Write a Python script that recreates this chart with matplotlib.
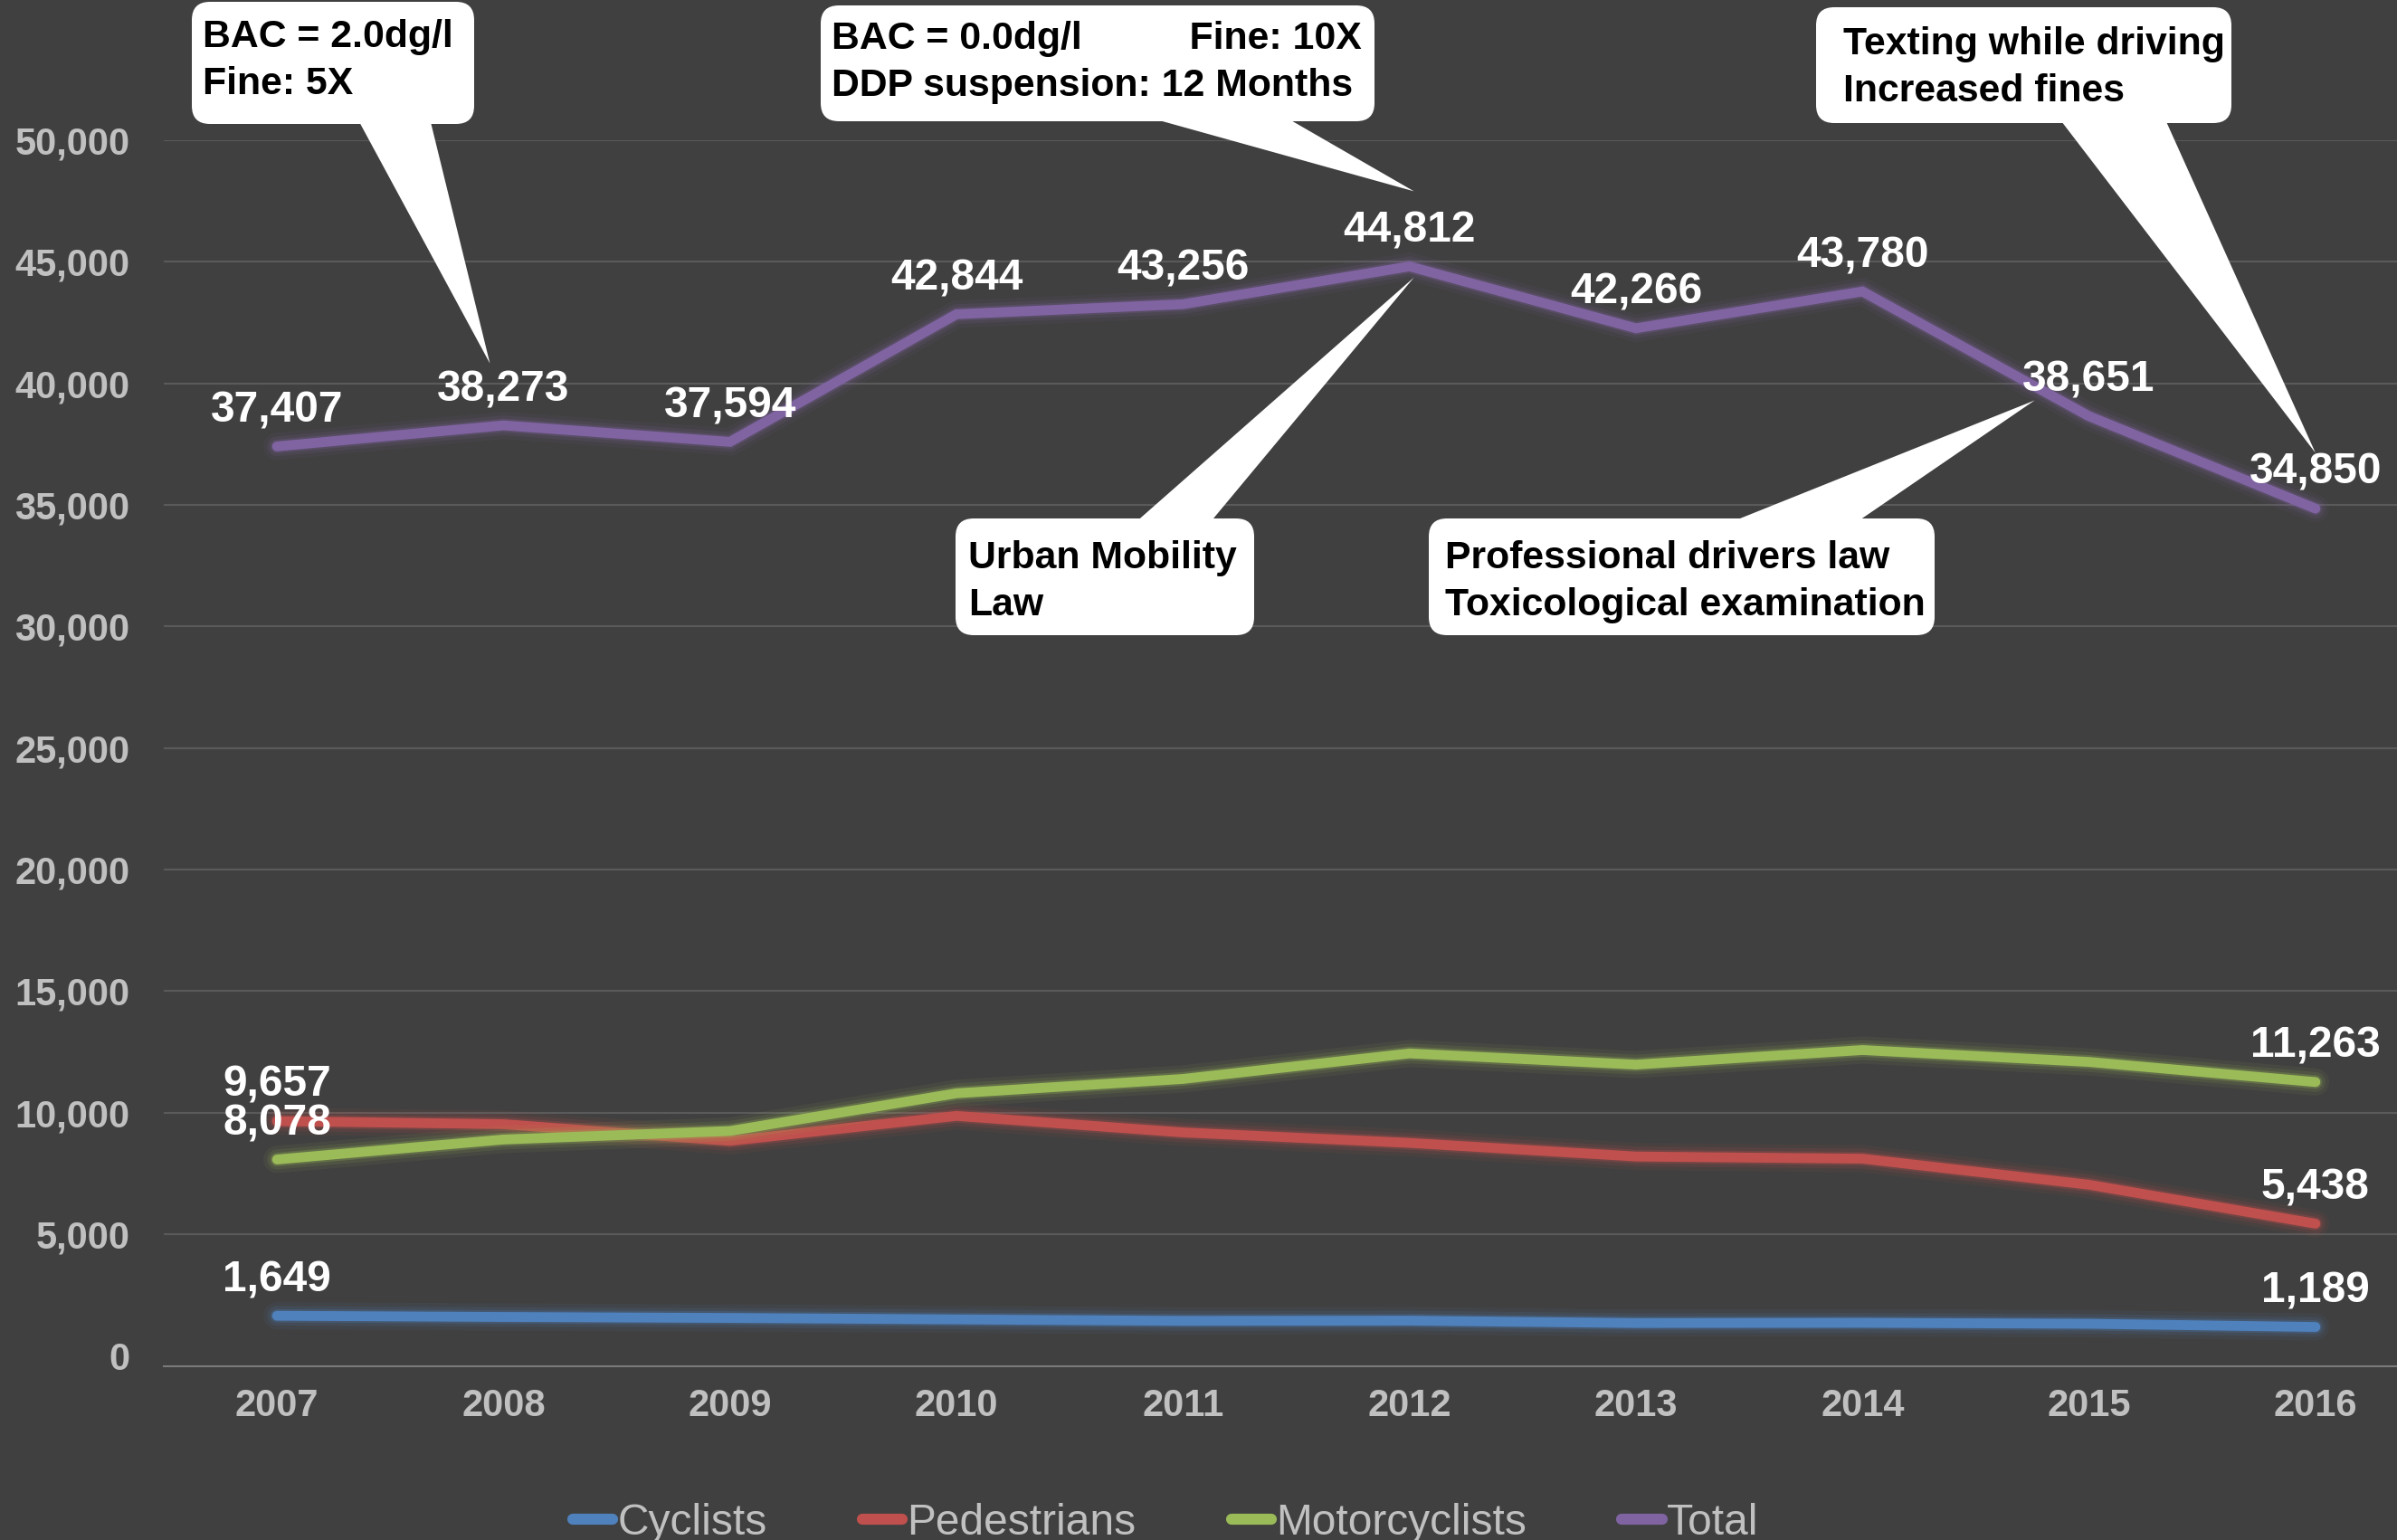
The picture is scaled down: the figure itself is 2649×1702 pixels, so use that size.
import matplotlib
matplotlib.use("Agg")
import matplotlib.pyplot as plt
import matplotlib.patheffects as pe
from matplotlib.lines import Line2D
from matplotlib.patches import FancyBboxPatch, Polygon
from matplotlib.transforms import IdentityTransform
from matplotlib.ticker import FuncFormatter

# Road traffic deaths by victim type
years = [2007, 2008, 2009, 2010, 2011, 2012, 2013, 2014, 2015, 2016]
cyclists = [1649, 1600, 1560, 1500, 1440, 1450, 1350, 1360, 1320, 1189]
pedestrians = [9657, 9530, 8840, 9870, 9190, 8760, 8200, 8110, 7040, 5438]
motorcyclists = [8078, 8900, 9250, 10800, 11390, 12440, 11980, 12580, 12090, 11263]
total = [37407, 38273, 37594, 42844, 43256, 44812, 42266, 43780, 38651, 34850]

series_names = ["Cyclists", "Pedestrians", "Motorcyclists", "Total"]
series_colors = ["#4f81bd", "#c0504d", "#9bbb59", "#8064a2"]

W, H = 2649, 1702
BG = "#404040"
LW = 7.8

plt.rcParams['font.family'] = ['Liberation Sans', 'DejaVu Sans']
plt.rcParams['font.weight'] = 'bold'

fig = plt.figure(figsize=(W / 100, H / 100), dpi=100, facecolor=BG)
ax = fig.add_axes([181 / W, 1 - 1510 / H, 1 - 181 / W, (1510 - 155) / H])
ax.set_facecolor(BG)

all_series = [cyclists, pedestrians, motorcyclists, total]
for name, vals, col in zip(series_names, all_series, series_colors):
    ax.plot(years, vals, color=col, lw=LW, solid_capstyle='round',
            solid_joinstyle='miter', label=name,
            path_effects=[pe.Stroke(linewidth=LW + 14, foreground=col, alpha=0.07),
                          pe.Stroke(linewidth=LW + 8, foreground=col, alpha=0.12),
                          pe.Stroke(linewidth=LW + 3, foreground=col, alpha=0.25),
                          pe.Normal()])

# data labels: every point of Total, first and last of the others
def label(x, v):
    ax.annotate(f"{v:,}", (x, v), xytext=(0, 28.5), textcoords='offset points',
                ha='center', va='center', color='white', fontsize=34.5,
                fontweight='bold', zorder=5)

for vals in all_series[:3]:
    label(years[0], vals[0])
    label(years[-1], vals[-1])
for x, v in zip(years, total):
    label(x, v)

ax.set_xlim(2006.5, 2016.36)
ax.set_ylim(-428, 50000)
ax.set_yticks(range(0, 50001, 5000))
ax.yaxis.set_major_formatter(FuncFormatter(lambda v, p: f"{int(v):,}"))
ax.set_xticks(years)
ax.set_xticklabels([str(y) for y in years])
ax.tick_params(length=0, labelsize=30, labelcolor='#c0c0c0')
ax.tick_params(axis='y', pad=27)
ax.tick_params(axis='x', pad=17)
ax.grid(axis='y', color='#5a5a5a', lw=1.5)
ax.yaxis.get_gridlines()[0].set_visible(False)
ax.set_axisbelow(True)
for s in ['top', 'left', 'right']:
    ax.spines[s].set_visible(False)
ax.spines['bottom'].set_color('#7a7a7a')
ax.spines['bottom'].set_linewidth(1.5)

handles = [Line2D([], [], color=c, lw=LW + 1, solid_capstyle='round') for c in series_colors]
fig.legend(handles, series_names, loc='center', ncol=4, frameon=False,
           bbox_to_anchor=(1288 / W, 1 - 1683 / H), bbox_transform=fig.transFigure,
           prop={'size': 34.5, 'weight': 'normal'}, labelcolor='#c0c0c0',
           handlelength=0.93, handletextpad=0.1, columnspacing=2.2)


# callouts: box and wedge base in pixels from the top-left, tip in data units
def to_disp(x, y_top):
    return (x, H - y_top)


def callout(box, base, tip, tx, ty, lines, gap=52):
    x0, y0, x1, y1 = box
    tip_d = ax.transData.transform(tip)
    by = y1 if base[2] == 'bottom' else y0
    inset = -6 if base[2] == 'bottom' else 6
    wedge = Polygon([to_disp(base[0], by + inset), tuple(tip_d), to_disp(base[1], by + inset)],
                    closed=True, facecolor='white', edgecolor='none',
                    transform=IdentityTransform(), zorder=10)
    fig.add_artist(wedge)
    bx, byd = to_disp(x0, y1)
    rect = FancyBboxPatch((bx, byd), x1 - x0, y1 - y0,
                          boxstyle='round,pad=0,rounding_size=20',
                          facecolor='white', edgecolor='none',
                          transform=IdentityTransform(), zorder=11)
    fig.add_artist(rect)
    for i, line in enumerate(lines):
        px, py = to_disp(tx, ty + i * gap)
        fig.text(px / W, py / H, line, ha='left', va='center', color='black',
                 fontsize=30.8, fontweight='bold', zorder=12)


callout((212, 2, 524, 137), (395, 475, 'bottom'), (2007.94, 40820), 224, 41,
        ["BAC = 2.0dg/l", "Fine: 5X"])
callout((907, 6, 1519, 134), (1263, 1418, 'bottom'), (2012.02, 47900), 919, 43,
        ["BAC = 0.0dg/l          Fine: 10X", "DDP suspension: 12 Months"])
callout((2007, 8, 2466, 136), (2275, 2392, 'bottom'), (2016.0, 37140), 2037, 49,
        ["Texting while driving", "Increased fines"])
callout((1056, 573, 1386, 702), (1253, 1336, 'top'), (2012.02, 44360), 1070, 617,
        ["Urban Mobility", "Law"])
callout((1579, 573, 2138, 702), (1908, 2049, 'top'), (2014.76, 39300), 1597, 617,
        ["Professional drivers law", "Toxicological examination"])

fig.savefig("out.png", dpi=100, facecolor=BG)
